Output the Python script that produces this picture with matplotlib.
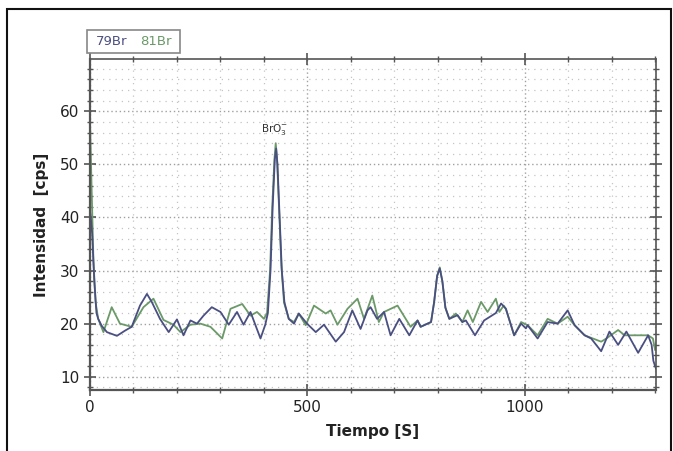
import matplotlib
matplotlib.use("Agg")
import matplotlib.pyplot as plt
from matplotlib.ticker import MultipleLocator
from matplotlib.patches import Rectangle

# --- DONNÉES ---
t_79 = [0, 3, 6, 11, 16, 20, 28, 40, 63, 82, 97, 116, 132, 143, 162, 182, 201, 216,
        232, 247, 262, 281, 301, 320, 339, 354, 370, 393, 404, 410, 416, 421, 426, 429,
        432, 437, 442, 448, 458, 470, 481, 500, 520, 539, 566, 585, 604, 623, 639, 646,
        661, 677, 692, 712, 735, 754, 761, 785, 792, 799, 805, 811, 818, 827, 846, 857,
        865, 886, 907, 934, 946, 957, 976, 992, 1003, 1007, 1030, 1053, 1076, 1099, 1115,
        1138, 1153, 1176, 1195, 1215, 1234, 1261, 1284, 1292, 1296, 1302]
i_79 = [42, 40, 37, 28, 22, 20.9, 19.6, 18.4, 17.7, 18.7, 19.4, 23.4, 25.6, 24.1, 20.9,
        18.4, 20.8, 17.8, 20.6, 20.0, 21.5, 23.1, 22.2, 19.8, 22.2, 19.8, 22.2, 17.2,
        19.8, 22, 30, 42, 51, 53, 50, 40, 30, 24, 20.9, 20.0, 21.9, 20.0, 18.4, 19.8,
        16.6, 18.4, 22.5, 19.0, 22.5, 23.1, 20.9, 22.2, 17.8, 20.9, 17.8, 20.6, 19.4,
        20.3, 24, 29, 30.4, 28, 23, 20.9, 21.6, 20.3, 20.6, 17.8, 20.6, 22, 23.8, 22.8,
        17.8, 20.0, 19.1, 19.7, 17.2, 20.3, 20.0, 22.5, 19.7, 17.8, 17.2, 14.8, 18.5,
        16.0, 18.5, 14.5, 17.8, 16.0, 13, 11.5]

t_81 = [0, 2, 5, 9, 14, 20, 32, 51, 70, 97, 124, 147, 170, 193, 209, 232, 255, 278, 305,
        324, 351, 370, 385, 401, 408, 415, 420, 425, 428, 431, 436, 441, 447, 458, 470,
        481, 497, 516, 543, 554, 570, 593, 616, 631, 650, 665, 677, 708, 738, 754, 761,
        785, 792, 799, 805, 811, 818, 827, 842, 857, 869, 881, 900, 915, 934, 942, 952,
        957, 976, 992, 1007, 1030, 1053, 1076, 1099, 1115, 1138, 1176, 1188, 1215, 1230,
        1261, 1284, 1295, 1300, 1303]
i_81 = [62, 55, 45, 32, 24, 20.9, 18.4, 23.1, 20.0, 19.4, 23.1, 24.7, 20.7, 19.8, 18.4,
        19.8, 20.0, 19.4, 17.2, 22.8, 23.7, 21.5, 22.2, 20.9, 22, 30, 42, 51, 54, 51,
        41, 31, 24, 20.9, 20.3, 21.9, 19.7, 23.4, 21.9, 22.5, 19.8, 22.8, 24.7, 20.9,
        25.3, 20.3, 22.2, 23.4, 19.4, 20.6, 19.4, 20.3, 24, 29, 30.6, 28, 23, 20.9, 21.9,
        20.3, 22.5, 20.3, 24.1, 22.2, 24.7, 22.2, 23.4, 22.8, 17.8, 20.3, 19.7, 17.8,
        20.9, 20.0, 21.3, 19.7, 17.8, 16.6, 17.2, 18.8, 17.8, 17.8, 17.8, 17.2, 15, 16.5]

x_ticks = [0, 500, 1000]
y_ticks = [10, 20, 30, 40, 50, 60]

c_79 = "#4a4f82"
c_81 = "#6b9968"
axis_col = "#555555"

fig = plt.figure(figsize=(6.73, 4.51), dpi=100)
fig.patch.set_facecolor("white")
ax = fig.add_axes([0.133, 0.1353, 0.8417, 0.7332])

ax.plot(t_81, i_81, color=c_81, linewidth=1.3)
ax.plot(t_79, i_79, color=c_79, linewidth=1.3)

ax.set_xlim(0, 1302)
ax.set_ylim(7.5, 69.8)
ax.set_xticks(x_ticks)
ax.set_yticks(y_ticks)
ax.xaxis.set_minor_locator(MultipleLocator(100))
ax.yaxis.set_minor_locator(MultipleLocator(2))

ax.grid(which="major", color="#a0a0a0", linestyle=(0, (1, 2)), linewidth=1.0)
ax.grid(which="minor", color="#c4c4c4", linestyle=(0, (1, 4)), linewidth=0.9)

ax.tick_params(which="both", direction="inout", colors=axis_col,
               top=True, right=True, labelcolor="#222222", labelsize=11)
ax.tick_params(which="major", length=8, width=1.2)
ax.tick_params(which="minor", length=5, width=1.0)
for side, spine in ax.spines.items():
    spine.set_color(axis_col)
    spine.set_linewidth(1.6 if side in ("left", "bottom") else 1.2)

ax.set_xlabel("Tiempo [S]", fontsize=11, fontweight="bold", color="#222222", labelpad=6)
ax.set_ylabel("Intensidad  [cps]", fontsize=11, fontweight="bold", color="#222222", labelpad=8)

ax.text(425, 56.5, r"BrO$_3^{-}$", fontsize=7.5, color="#333333", ha="center", va="center")

# légende encadrée
fig.patches.append(Rectangle((87 / 673, 1 - 53 / 451), 93 / 673, 23 / 451,
                             transform=fig.transFigure, fill=False,
                             edgecolor="#888888", linewidth=1.2))
fig.text(96 / 673, 1 - 41.5 / 451, "79Br", color=c_79, fontsize=9.5, va="center")
fig.text(140 / 673, 1 - 41.5 / 451, "81Br", color=c_81, fontsize=9.5, va="center")

# cadre extérieur
fig.patches.append(Rectangle((7 / 673, -0.05), 664 / 673, 1 - 9 / 451 + 0.05,
                             transform=fig.transFigure, fill=False,
                             edgecolor="#111111", linewidth=1.5))

fig.savefig("out.png", dpi=100)
